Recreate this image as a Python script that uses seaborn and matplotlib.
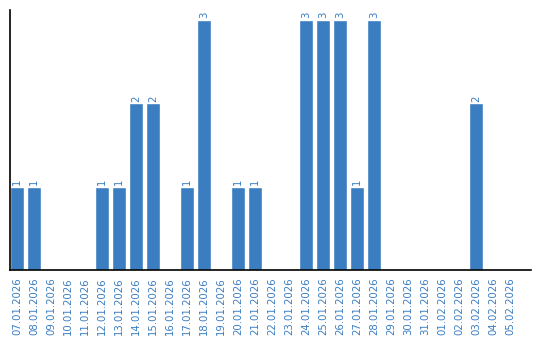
import matplotlib
matplotlib.use("Agg")
import matplotlib.pyplot as plt
import seaborn as sns
import pandas as pd

dates = ["07.01.2026", "08.01.2026", "09.01.2026", "10.01.2026", "11.01.2026",
         "12.01.2026", "13.01.2026", "14.01.2026", "15.01.2026", "16.01.2026",
         "17.01.2026", "18.01.2026", "19.01.2026", "20.01.2026", "21.01.2026",
         "22.01.2026", "23.01.2026", "24.01.2026", "25.01.2026", "26.01.2026",
         "27.01.2026", "28.01.2026", "29.01.2026", "30.01.2026", "31.01.2026",
         "01.02.2026", "02.02.2026", "03.02.2026", "04.02.2026", "05.02.2026"]
counts = [1, 1, 0, 0, 0, 1, 1, 2, 2, 0,
          1, 3, 0, 1, 1, 0, 0, 3, 3, 3,
          1, 3, 0, 0, 0, 0, 0, 2, 0, 0]

BLUE = "#3b7dc1"
df = pd.DataFrame({"date": dates, "count": counts})

sns.set_style("white")
plt.rcParams['font.family'] = ['DejaVu Sans']

fig = plt.figure(figsize=(5.4, 3.4), dpi=100)
ax = fig.add_axes([10/540, 70/340, 521/540, 260/340])
sns.barplot(data=df, x="date", y="count", color=BLUE, width=0.82,
            saturation=1, ax=ax)

for i, v in enumerate(counts):
    if v > 0:
        ax.text(i, v + 0.02, str(v), rotation=90, ha="center", va="bottom",
                color=BLUE, fontsize=7.3)

ax.set_xlim(-0.41, 30.24)
ax.set_ylim(0, 3.12)
ax.set_xlabel("")
ax.set_ylabel("")
ax.set_yticks([])
ax.tick_params(axis="x", length=0, pad=5, labelsize=7.3, labelcolor=BLUE,
               rotation=90)
for s in ["top", "right"]:
    ax.spines[s].set_visible(False)
for s in ["left", "bottom"]:
    ax.spines[s].set_color("black")
    ax.spines[s].set_linewidth(1.2)

fig.savefig("out.png", dpi=100)
